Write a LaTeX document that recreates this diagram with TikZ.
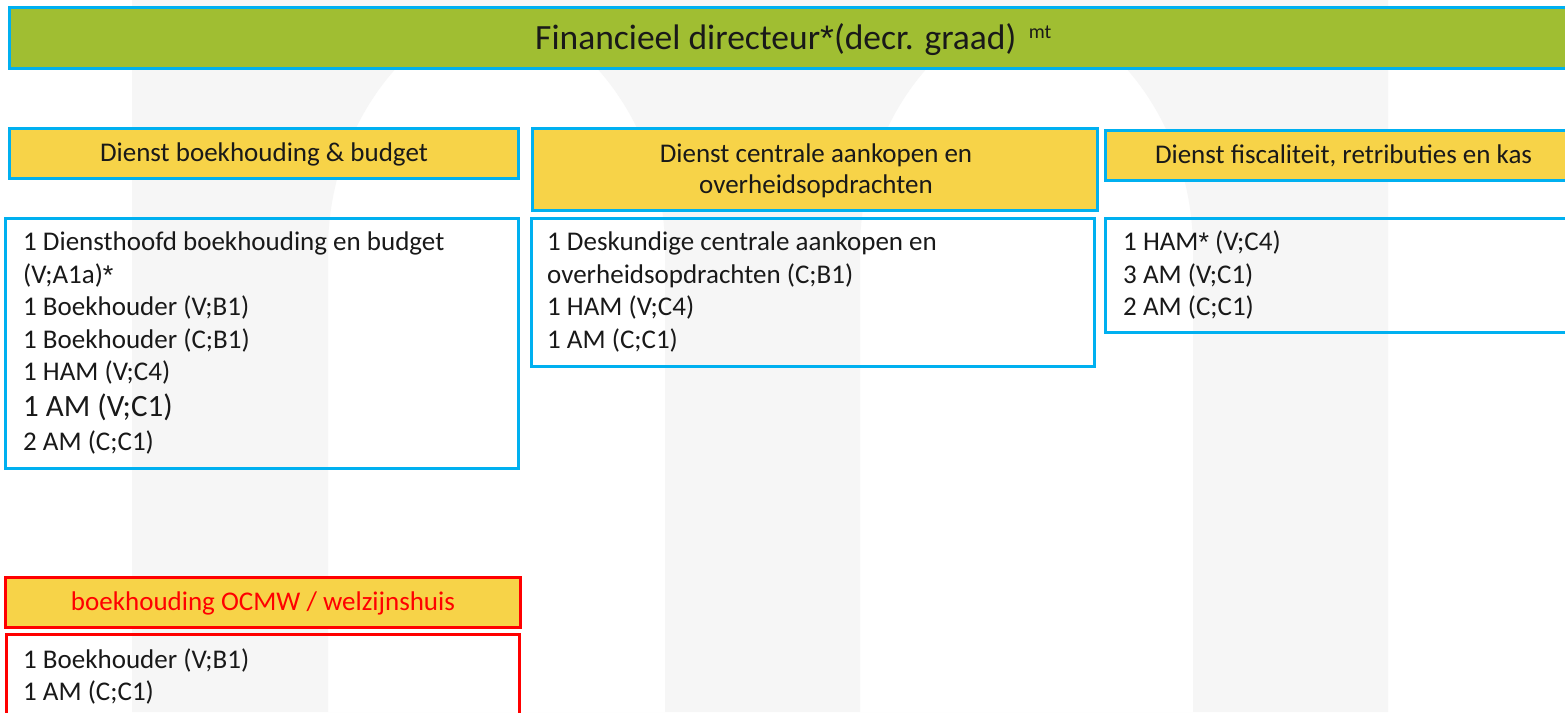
\documentclass[tikz,border=0pt]{standalone}
\usepackage{fontspec}
\setmainfont{Carlito}
\newfontfamily\astfont{Liberation Sans}
\definecolor{cyanb}{HTML}{00B0F0}
\definecolor{grn}{HTML}{A0BE32}
\definecolor{yel}{HTML}{F7D348}
\definecolor{redb}{HTML}{FF0000}
\definecolor{wm}{HTML}{F6F6F6}
\newcommand{\hstar}{{\astfont\raisebox{-0.03em}{*}}}
\begin{document}
\begin{tikzpicture}[x=1pt,y=-1pt,
  bx/.style={draw=cyanb,line width=3pt,inner sep=0pt},
  ybox/.style={bx,fill=yel},
  rbox/.style={draw=redb,line width=3pt,inner sep=0pt},
  txt/.style={anchor=base west,inner sep=0pt,text=black!90,font=\fontsize{27}{32.5}\selectfont},
  ctxt/.style={anchor=base,inner sep=0pt,text=black!90,font=\fontsize{27}{32.5}\selectfont}]
\clip (0,0) rectangle (1565,712);
\fill[white] (0,0) rectangle (1565,712);
% watermark
\fill[wm,even odd rule] (132,0) rectangle (1388,712)
  (328,712) -- (328,250) .. controls (328,110) and (430,12) .. (496.5,12)
    .. controls (563,12) and (665,110) .. (665,250) -- (665,712) -- cycle
  (860,712) -- (860,250) .. controls (860,110) and (960,12) .. (1026.5,12)
    .. controls (1093,12) and (1193,110) .. (1193,250) -- (1193,712) -- cycle;
% boxes
\node[bx,fill=grn,minimum width=1560.5pt,minimum height=60.5pt] (top) at (789.75,37.75) {};
\node[ybox,minimum width=509pt,minimum height=50pt] (h1) at (264,153) {};
\node[ybox,minimum width=564.5pt,minimum height=82pt] (h2) at (814.75,169) {};
\node[ybox,minimum width=465pt,minimum height=50pt] (h3) at (1337.5,155) {};
\node[bx,minimum width=512.5pt,minimum height=250pt] (w1) at (261.75,343) {};
\node[bx,minimum width=563pt,minimum height=148pt] (w2) at (812.5,292) {};
\node[bx,minimum width=465pt,minimum height=114pt] (w3) at (1337.5,275) {};
\node[rbox,fill=yel,minimum width=515pt,minimum height=50pt] (h4) at (262.5,602) {};
\node[rbox,minimum width=513pt,minimum height=85.5pt] (w4) at (262.5,677.25) {};
% title
\node[anchor=base west,inner sep=0pt,text=black!90,font=\fontsize{35.5}{40}\selectfont] (title) at (535,49) {Financieel directeur\hstar(decr. graad)};
\node[anchor=base west,inner sep=0pt,text=black!90,font=\fontsize{20}{22}\selectfont] (sup) at ([xshift=12pt,yshift=11pt]title.base east) {mt};
% headers
\node[ctxt] (h1t) at (264,161) {Dienst boekhouding \& budget};
\node[ctxt] (h2t1) at (816,162) {Dienst centrale aankopen en};
\node[ctxt] (h2t2) at (816,193) {overheidsopdrachten};
\node[ctxt] (h3t) at (1343.5,163) {Dienst fiscaliteit, retributies en kas};
\node[ctxt,text=redb] (h4t) at (263,610) {boekhouding OCMW / welzijnshuis};
% body box 1
\node[txt] (a1) at (23,250.7) {1 Diensthoofd boekhouding en budget};
\node[txt] (a2) at (23,283.2) {(V;A1a)\hstar};
\node[txt] (a3) at (23,315.7) {1 Boekhouder (V;B1)};
\node[txt] (a4) at (23,348.2) {1 Boekhouder (C;B1)};
\node[txt] (a5) at (23,380.7) {1 HAM (V;C4)};
\node[txt,font=\fontsize{31}{35}\selectfont] (a6) at (23,416.5) {1 AM (V;C1)};
\node[txt] (a7) at (23,450) {2 AM (C;C1)};
% body box 2
\node[txt] (b1) at (547,250.7) {1 Deskundige centrale aankopen en};
\node[txt] (b2) at (547,283.2) {overheidsopdrachten (C;B1)};
\node[txt] (b3) at (547,315.7) {1 HAM (V;C4)};
\node[txt] (b4) at (547,348.2) {1 AM (C;C1)};
% body box 3
\node[txt] (c1) at (1123,250.7) {1 HAM\hstar{} (V;C4)};
\node[txt] (c2) at (1123,283.2) {3 AM (V;C1)};
\node[txt] (c3) at (1123,315.7) {2 AM (C;C1)};
% body box 4
\node[txt] (d1) at (23,668) {1 Boekhouder (V;B1)};
\node[txt] (d2) at (23,700) {1 AM (C;C1)};
\end{tikzpicture}
\end{document}
